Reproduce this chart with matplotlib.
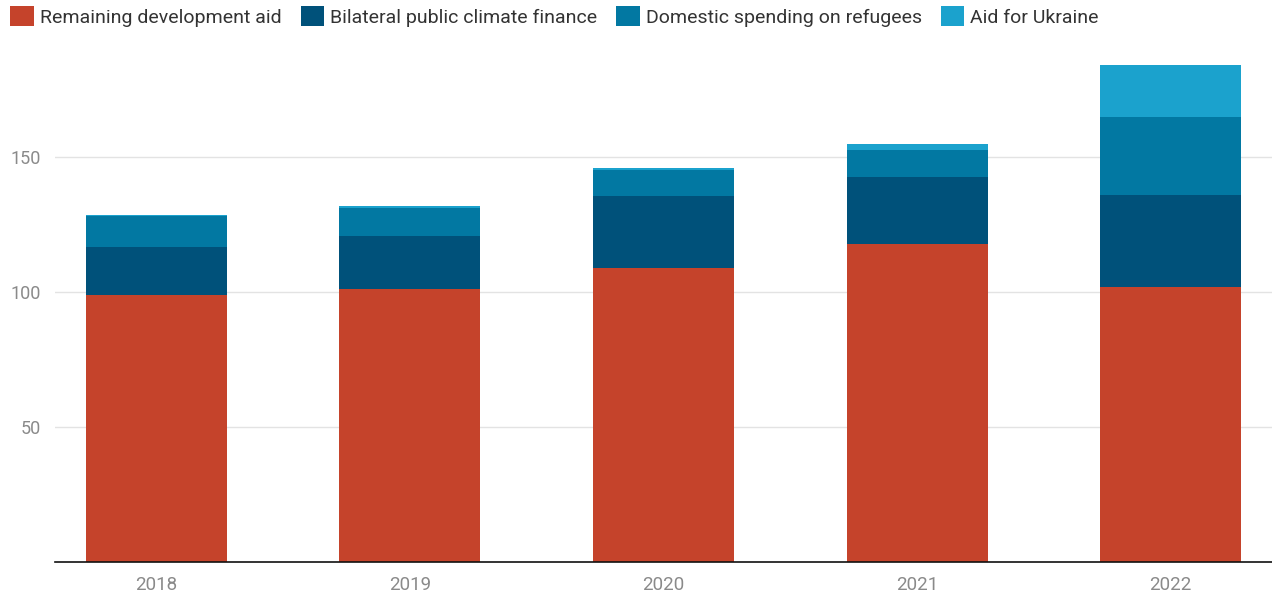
import matplotlib
matplotlib.use("Agg")
import matplotlib.pyplot as plt
import numpy as np

years = ["2018", "2019", "2020", "2021", "2022"]
remaining_aid = [98.8, 101.0, 108.8, 117.8, 101.9]
climate_finance = [18.0, 19.9, 26.9, 24.9, 33.9]
refugees = [11.3, 10.2, 9.4, 9.9, 29.0]
ukraine = [0.5, 0.7, 0.7, 2.1, 19.2]

series_names = ["Remaining development aid", "Bilateral public climate finance",
                "Domestic spending on refugees", "Aid for Ukraine"]
colors = ["#c5432b", "#00517a", "#0278a2", "#1ba2cd"]

plt.rcParams['font.family'] = ['Roboto', 'DejaVu Sans']

fig = plt.figure(figsize=(12.72, 5.95), dpi=100)
ax = fig.add_axes([0.0432, 0.0555, 0.9568, 0.8622])

x = np.arange(len(years))
bottom = np.zeros(len(years))
handles = []
for name, vals, c in zip(series_names, [remaining_aid, climate_finance, refugees, ukraine], colors):
    h = ax.bar(x, vals, width=0.556, bottom=bottom, color=c, label=name, linewidth=0, zorder=3)
    handles.append(h)
    bottom += np.array(vals)

ax.set_xlim(-0.40, 4.40)
ax.set_ylim(0, 190)
ax.set_yticks([50, 100, 150])
ax.set_xticks(x)
ax.set_xticklabels(years)
ax.tick_params(axis='both', length=0, labelsize=13, labelcolor="#8a8a8a")
ax.tick_params(axis='x', pad=10, labelsize=13.5)
ax.tick_params(axis='y', pad=10)
ax.grid(axis='y', color="#e3e3e3", linewidth=1, zorder=0)
for s in ["top", "right", "left"]:
    ax.spines[s].set_visible(False)
ax.spines["bottom"].set_color("#111111")
ax.spines["bottom"].set_linewidth(1.2)
ax.spines["bottom"].set_zorder(4)

leg = fig.legend(handles=handles, labels=series_names, loc="upper left",
                 bbox_to_anchor=(-0.0025, 1.012), ncol=4, frameon=False,
                 fontsize=14, handlelength=1.2, handleheight=1.2,
                 handletextpad=0.3, columnspacing=1.0, borderaxespad=0.3)
for t in leg.get_texts():
    t.set_color("#333333")

fig.savefig("out.png", dpi=100)
